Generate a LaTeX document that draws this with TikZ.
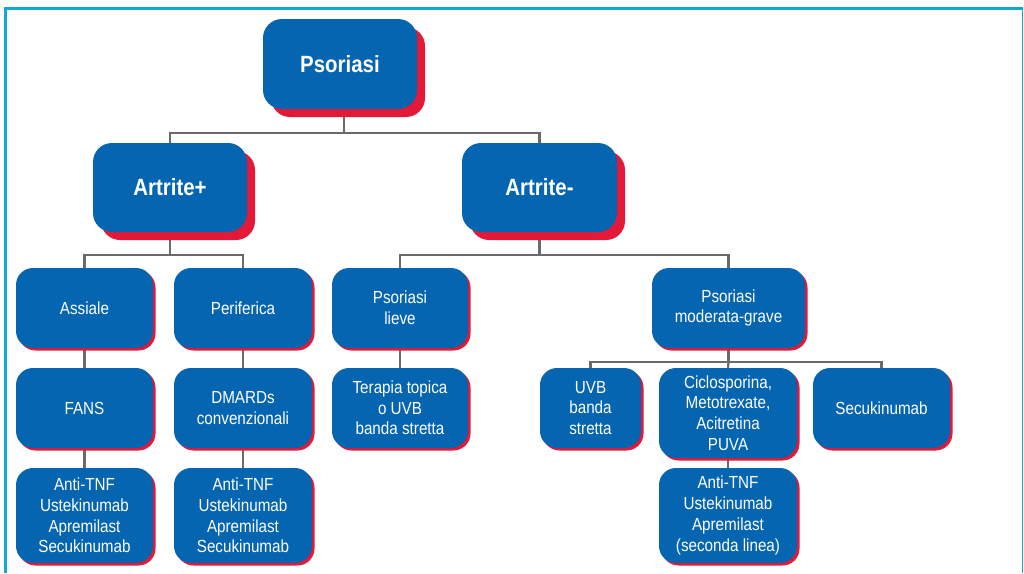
\documentclass[tikz,border=0pt]{standalone}
\usepackage{fontspec}
\setmainfont{Liberation Sans}[FakeStretch=0.87]
\usetikzlibrary{shadows,backgrounds,calc}

\definecolor{pblue}{RGB}{5,101,176}
\definecolor{pred}{RGB}{227,25,55}
\definecolor{pgray}{RGB}{105,105,110}
\definecolor{pframe}{RGB}{14,170,212}

\tikzset{
  card/.style={fill=pblue, text=white, draw=none, inner sep=0pt, align=center},
  size/.style 2 args={minimum width=#1pt, minimum height=#2pt},
  bigcard/.style={card, rounded corners=19pt,
    general shadow={fill=pred, shadow xshift=8pt, shadow yshift=-8pt},
    font=\fontsize{23.5}{27}\selectfont\bfseries},
  smallcard/.style={card, rounded corners=17pt,
    general shadow={fill=pred, shadow xshift=2.5pt, shadow yshift=-2.5pt},
    font=\fontsize{17.5}{20.7}\selectfont},
  conn/.style={draw=pgray, line width=2.2pt},
  framebar/.style={draw=pframe},
}

\begin{document}
\begin{tikzpicture}[x=1pt, y=-1pt]
\useasboundingbox (0,0) rectangle (1024,573);

% outer frame
\draw[framebar, line width=3.2pt] (4,8.5) -- (1023,8.5);
\draw[framebar, line width=2.5pt] (5.5,7) -- (5.5,573);
\draw[framebar, line width=1.5pt] (1022.5,7) -- (1022.5,573);

% top levels
\node[bigcard, size={154}{90}] (psor) at (340,64) {Psoriasi};
\node[bigcard, size={154}{89}] (artp) at (170,187.5) {Artrite+};
\node[bigcard, size={155}{89}] (artm) at (539.5,187.5) {Artrite-};

% third level
\node[smallcard, size={137}{80}] (assiale) at (84.5,308) {Assiale};
\node[smallcard, size={138}{80}] (perif) at (243,308) {Periferica};
\node[smallcard, size={136}{80}] (lieve) at (400,308) {Psoriasi\\lieve};
\node[smallcard, size={153}{80}] (modgr) at (728.5,308) {Psoriasi\\moderata-grave};

% fourth level
\node[smallcard, size={137}{80}] (fans) at (84.5,408) {FANS};
\node[smallcard, size={138}{80}] (dmards) at (243,408) {DMARDs\\convenzionali};
\node[smallcard, size={136}{80}] (topica) at (400,408) {Terapia topica\\o UVB\\banda stretta};
\node[smallcard, size={101}{80}] (uvb) at (590.5,408) {UVB\\banda\\stretta};
\node[smallcard, size={138}{90}] (ciclo) at (728,413) {Ciclosporina,\\Metotrexate,\\Acitretina\\PUVA};
\node[smallcard, size={137}{80}] (secuk) at (881.5,408) {Secukinumab};

% fifth level
\node[smallcard, size={137}{95}] (biol1) at (84.5,515.5) {Anti-TNF\\Ustekinumab\\Apremilast\\Secukinumab};
\node[smallcard, size={138}{95}] (biol2) at (243,515.5) {Anti-TNF\\Ustekinumab\\Apremilast\\Secukinumab};
\node[smallcard, size={138}{95}] (biol3) at (728,515.5) {Anti-TNF\\Ustekinumab\\Apremilast\\(seconda linea)};

% junction points of the branches
\coordinate (j1) at ($(psor.south)+(4,24)$);
\coordinate (j2) at ($(artp.south)+(0,23)$);
\coordinate (j3) at ($(artm.south)+(0,23)$);
\coordinate (j4) at ($(modgr.south)+(0,14)$);

\begin{scope}[on background layer]
  \draw[conn] (j1) -- (j1 |- psor.south);
  \draw[conn] (artp.north) |- (j1) -| (artm.north);
  \draw[conn] (artp.south) -- (j2);
  \draw[conn] (assiale.north) |- (j2) -| (perif.north);
  \draw[conn] (artm.south) -- (j3);
  \draw[conn] (lieve.north) |- (j3) -| (modgr.north);
  \draw[conn] (assiale.south) -- (fans.north);
  \draw[conn] (fans.south) -- (biol1.north);
  \draw[conn] (perif.south) -- (dmards.north);
  \draw[conn] (dmards.south) -- (biol2.north);
  \draw[conn] (lieve.south) -- (topica.north);
  \draw[conn] (modgr.south) -- (j4);
  \draw[conn] (uvb.north) |- (j4) -| (secuk.north);
  \draw[conn] (j4) -- (ciclo.north);
  \draw[conn] (ciclo.south) -- (biol3.north);
\end{scope}
\end{tikzpicture}
\end{document}
